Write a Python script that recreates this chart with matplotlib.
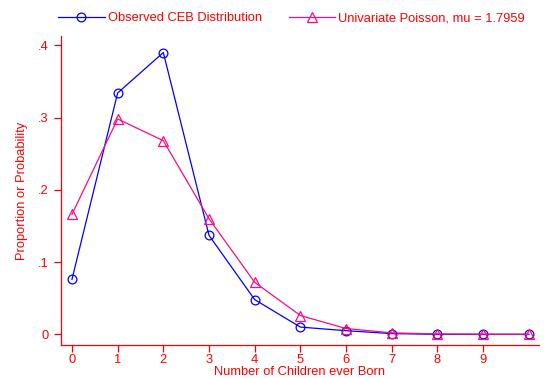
import matplotlib
matplotlib.use("Agg")
import matplotlib.pyplot as plt

plt.rcParams['font.family'] = ['Liberation Sans', 'DejaVu Sans']

children = [0, 1, 2, 3, 4, 5, 6, 7, 8, 9, 10]
observed = [0.076, 0.334, 0.390, 0.137, 0.048, 0.010, 0.005, 0.001, 0.000, 0.000, 0.000]
poisson = [0.166, 0.298, 0.268, 0.160, 0.072, 0.026, 0.008, 0.002, 0.0005, 0.0001, 0.0000]
xticks = [0, 1, 2, 3, 4, 5, 6, 7, 8, 9]
yticks = [0, 0.1, 0.2, 0.3, 0.4]
ylabels = ['0', '.1', '.2', '.3', '.4']

red = '#ff0000'
blue = '#0000ff'
pink = '#ff0a7f'
fs = 9.3

fig = plt.figure(figsize=(5.47, 3.78), dpi=100)
ax = fig.add_axes([0.1115, 0.0873, 0.8735, 0.8177])

ax.plot(children, observed, color=blue, lw=0.9, marker='o', ms=6.3,
        mfc='none', mec=blue, mew=0.9, label='Observed CEB Distribution')
ax.plot(children, poisson, color=pink, lw=0.9, marker='^', ms=6.5,
        mfc='none', mec=pink, mew=0.9, label='Univariate Poisson, mu = 1.7959')

ax.set_xlim(-0.24, 10.22)
ax.set_ylim(-0.0148, 0.413)
ax.set_xticks(xticks)
ax.set_yticks(yticks)
ax.set_yticklabels(ylabels)

for s in ['top', 'right']:
    ax.spines[s].set_visible(False)
for s in ['left', 'bottom']:
    ax.spines[s].set_color(red)
    ax.spines[s].set_linewidth(0.9)
ax.tick_params(colors=red, labelcolor=red, labelsize=fs, length=5, width=0.9)
ax.tick_params(axis='x', pad=1.5)
ax.tick_params(axis='y', pad=4)

ax.set_xlabel('Number of Children ever Born', color=red, fontsize=fs, labelpad=0)
ax.set_ylabel('Proportion or Probability', color=red, fontsize=fs, labelpad=7)

ax.legend(loc='lower left', bbox_to_anchor=(-0.017, 1.021), ncol=2, frameon=False,
          fontsize=fs, labelcolor=red, handlelength=3.6, columnspacing=2.1,
          handletextpad=0.23, borderaxespad=0)

fig.savefig('out.png', dpi=100)
